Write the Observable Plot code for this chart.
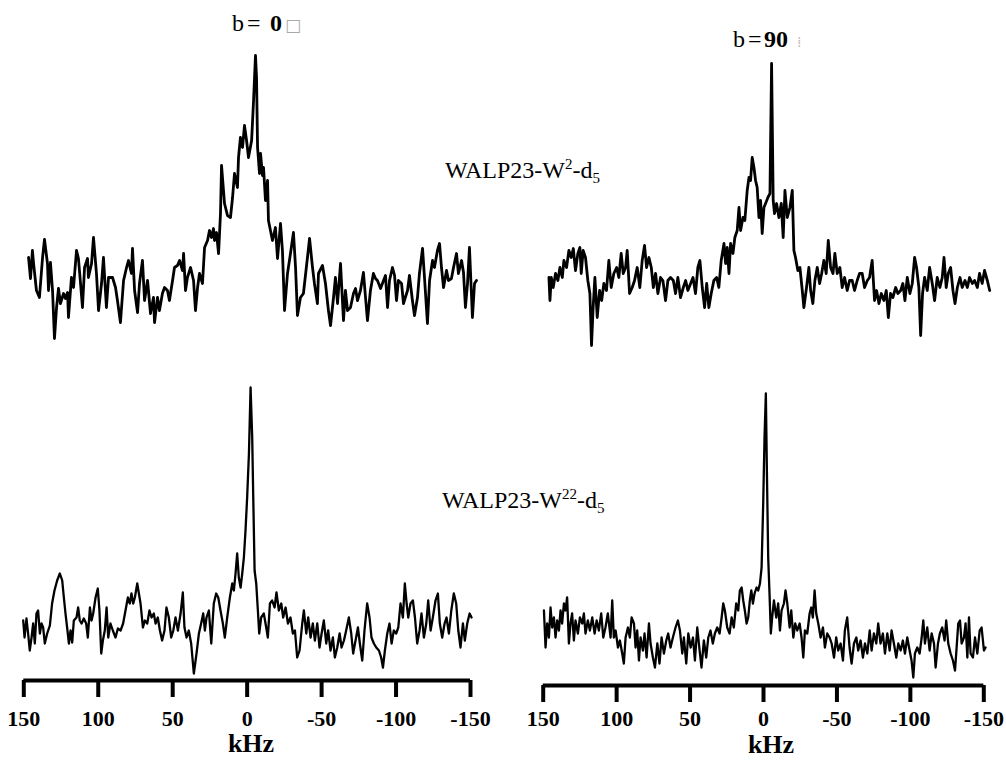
<!DOCTYPE html>
<html>
<head>
<meta charset="utf-8">
<script src="https://cdn.jsdelivr.net/npm/d3@7"></script>
<script src="https://cdn.jsdelivr.net/npm/@observablehq/plot@0.6"></script>
<style>
  html, body { margin: 0; padding: 0; background: #fff; }
  #fig { position: relative; width: 1006px; height: 761px; background: #fff; overflow: hidden; }
  .pane { position: absolute; }
</style>
</head>
<body>
<div id="fig"></div>
<script>
// ---- data (frequency in kHz, intensity in arbitrary units) ----
const xTicks = [150, 100, 50, 0, -50, -100, -150];

// WALP23-W2-d5, b = 0
const tlKHz = [146.8,145.5,144.2,143.5,141.5,139.5,137.4,136.1,134.1,133.4,
132.1,130.7,129.4,128.0,126.7,125.4,123.3,122.0,120.6,120.0,
118.0,116.6,114.6,113.3,111.9,110.6,109.2,107.2,106.6,104.5,
103.2,101.2,99.8,97.8,96.5,94.5,93.1,90.4,88.4,87.1,
85.1,83.0,81.0,79.7,77.7,77.0,75.6,73.6,72.3,70.3,
68.9,66.9,64.9,62.9,62.2,60.2,58.9,56.9,55.5,53.5,
52.2,50.1,48.8,46.8,45.4,43.4,42.7,41.4,40.1,38.0,
36.0,34.7,33.3,32.0,30.0,28.6,26.6,25.3,23.9,22.6,
21.9,20.6,19.2,17.9,17.2,15.2,13.2,11.2,9.8,8.5,
6.5,5.8,4.5,3.1,1.8,0.4,-0.9,-3.0,-4.3,-5.6,
-6.3,-7.0,-8.3,-9.0,-10.3,-11.0,-12.3,-13.7,-14.3,-17.0,
-19.0,-20.4,-22.4,-23.7,-25.1,-27.1,-29.1,-31.1,-32.5,-33.8,
-35.8,-37.8,-40.5,-41.9,-43.9,-45.2,-47.2,-47.9,-50.6,-52.6,
-54.6,-56.0,-58.0,-59.3,-60.7,-62.7,-64.7,-66.0,-67.4,-69.4,
-71.4,-72.8,-74.1,-76.1,-78.1,-79.5,-80.8,-82.8,-84.8,-86.2,
-87.5,-89.6,-91.6,-92.9,-94.3,-95.6,-97.6,-99.0,-100.3,-101.6,
-103.7,-105.0,-107.7,-109.0,-111.0,-112.4,-114.4,-115.7,-117.8,-119.1,
-121.1,-122.5,-124.5,-125.8,-127.8,-129.2,-130.5,-131.9,-133.9,-135.2,
-137.2,-138.6,-140.6,-141.9,-144.0,-145.3,-146.6,-148.0,-149.3,-151.3,
-152.7,-154.0];
const tlInt = [93,72,100,88,60,53,93,111,87,60,
88,60,12,43,62,47,57,52,58,33,
73,63,100,92,67,43,83,92,73,87,
113,77,40,67,93,43,73,73,63,50,
28,70,83,90,77,102,60,38,67,90,
50,70,37,53,28,53,40,57,63,60,
50,70,83,85,90,80,97,60,73,83,
70,40,63,77,67,103,110,120,113,122,
110,118,97,137,185,147,135,133,153,177,
163,193,213,203,225,210,193,210,250,295,
273,203,177,197,175,183,150,170,130,110,
123,92,127,100,40,77,97,118,83,35,
53,57,93,112,83,67,47,77,85,67,
40,25,53,73,47,87,30,60,40,43,
57,62,50,60,78,53,30,60,77,72,
70,62,70,75,43,70,83,75,50,70,
67,47,60,75,50,35,53,77,102,73,
27,70,90,83,100,107,83,63,80,70,
72,83,97,77,90,78,43,67,103,33,
67,70];

// WALP23-W2-d5, b = 90
const trKHz = [146.1,145.4,144.5,143.2,141.6,140.0,138.6,137.0,135.9,134.1,
132.5,130.9,129.5,128.0,126.4,125.0,124.1,122.8,121.2,119.6,
118.2,117.1,116.0,114.8,113.2,111.6,110.2,108.7,106.9,105.3,
103.7,101.9,100.0,98.5,96.9,95.5,93.9,92.8,91.2,89.4,
87.8,86.0,84.2,82.6,81.0,79.6,78.0,76.4,75.0,73.5,
71.9,70.1,68.5,66.7,65.1,63.3,61.4,59.9,58.3,56.5,
54.6,53.0,51.5,49.6,48.0,46.3,44.7,43.3,41.7,40.1,
38.7,37.2,35.6,33.8,31.9,30.4,28.8,26.9,25.8,24.7,
23.5,22.4,20.8,19.5,17.9,16.7,15.6,14.0,12.7,11.1,
9.9,8.8,7.7,6.5,5.4,4.3,3.1,2.0,0.9,-0.3,
-1.4,-3.0,-4.4,-5.5,-6.6,-7.5,-8.9,-10.5,-12.1,-13.4,
-14.6,-16.2,-18.0,-19.6,-20.7,-21.8,-23.4,-24.8,-26.4,-27.5,
-29.3,-30.9,-32.1,-33.6,-35.0,-36.6,-38.2,-39.6,-41.1,-42.7,
-44.1,-45.7,-47.3,-48.6,-50.2,-52.0,-53.6,-55.2,-57.0,-58.6,
-60.4,-62.0,-63.8,-65.4,-67.2,-68.8,-70.7,-72.2,-74.0,-75.6,
-77.0,-78.6,-80.2,-82.0,-83.6,-85.0,-86.5,-88.1,-90.0,-91.5,
-93.4,-94.9,-96.3,-97.9,-99.7,-101.3,-102.9,-104.2,-105.8,-107.0,
-108.3,-109.7,-111.5,-113.1,-114.9,-116.5,-118.3,-120.1,-121.7,-122.9,
-124.4,-125.8,-127.4,-129.0,-130.4,-132.0,-133.8,-135.3,-137.2,-138.8,
-140.3,-142.2,-143.7,-145.6,-147.1,-148.9,-150.5,-152.4,-154.0];
const trInt = [73,50,73,63,77,70,83,73,90,83,
100,93,102,80,97,103,77,100,93,70,
57,5,43,73,33,60,50,67,60,90,
63,77,83,73,97,77,83,100,57,63,
70,83,63,90,105,83,93,83,63,77,
57,73,70,50,70,73,70,57,73,53,
63,70,60,67,73,57,83,90,63,43,
67,43,57,70,73,63,90,107,87,103,
77,107,97,113,120,143,120,133,130,160,
173,170,193,183,170,163,133,150,117,143,
147,153,157,287,150,137,147,133,147,113,
160,133,143,160,100,93,80,83,60,43,
63,83,60,47,70,83,67,77,90,77,
110,83,77,97,77,83,63,73,60,70,
70,60,70,77,77,63,70,73,90,50,
60,47,57,50,60,33,57,53,63,57,
60,67,50,73,57,67,93,83,63,15,
57,73,60,83,67,50,73,63,73,93,
63,77,83,60,47,63,73,63,70,63,
73,67,70,63,77,67,80,70,60];

// WALP23-W22-d5, b = 0
const blKHz = [150.4,149.5,148.2,147.1,146.0,144.8,143.7,142.6,141.5,140.4,
139.2,138.1,137.0,135.9,134.3,132.5,131.0,129.4,127.6,125.8,
124.2,123.1,122.0,120.9,119.7,118.6,117.5,116.4,114.6,113.5,
112.4,111.2,109.7,108.1,107.0,105.6,104.5,103.4,101.8,100.3,
99.2,98.0,96.9,95.6,94.4,93.3,91.8,90.2,88.4,86.8,
85.0,83.3,81.7,80.1,78.8,77.7,76.5,75.4,73.8,72.7,
71.6,70.0,68.7,67.1,65.6,64.2,62.7,61.5,60.0,58.6,
57.1,55.5,54.2,52.6,51.0,49.6,48.1,46.5,44.7,43.2,
42.1,40.7,39.2,37.6,35.8,34.0,32.4,30.9,29.5,28.4,
27.3,25.7,24.1,22.4,20.8,19.4,17.9,16.3,15.0,13.4,
11.6,10.0,8.9,7.8,6.7,5.6,4.4,3.3,2.2,1.1,
0.0,-1.2,-2.3,-3.4,-4.1,-5.0,-6.1,-7.2,-8.1,-9.4,
-11.2,-12.8,-13.9,-15.3,-16.8,-18.4,-19.7,-21.3,-22.9,-24.2,
-25.8,-27.4,-29.1,-30.7,-32.1,-33.6,-35.2,-37.0,-38.1,-39.7,
-41.0,-42.6,-44.1,-45.5,-47.1,-48.6,-50.0,-51.5,-53.1,-54.4,
-56.0,-57.6,-58.9,-60.5,-62.1,-63.4,-65.0,-66.5,-68.3,-69.9,
-71.2,-72.8,-74.4,-75.7,-77.3,-78.8,-80.6,-82.2,-83.5,-85.1,
-86.7,-88.5,-90.0,-91.2,-92.5,-94.1,-95.6,-97.0,-98.5,-100.1,
-101.5,-103.0,-104.6,-105.9,-107.1,-108.2,-109.7,-111.3,-112.7,-114.2,
-115.8,-117.1,-118.7,-120.3,-121.6,-123.2,-124.7,-126.5,-128.1,-129.4,
-131.0,-132.6,-133.9,-135.5,-137.1,-138.8,-140.4,-141.8,-143.3,-144.9,
-146.2,-147.8,-149.4,-150.7];
const blInt = [80,63,82,67,50,63,77,57,87,90,
67,77,73,57,67,75,97,110,120,127,
120,103,87,73,57,70,58,80,83,93,
80,77,82,77,63,93,80,87,103,112,
90,47,60,70,93,63,77,70,63,72,
70,77,90,103,97,107,97,103,117,107,
97,73,80,77,90,83,87,77,83,70,
60,70,93,83,63,70,83,70,87,108,
73,63,70,57,27,47,67,77,87,70,
83,90,57,97,107,103,90,77,63,83,
103,117,110,127,147,123,113,127,143,170,
203,247,313,263,203,130,117,90,67,83,
87,73,63,97,100,93,108,90,97,83,
93,77,83,67,70,43,50,77,90,67,
83,63,77,60,77,53,67,80,57,70,
50,63,43,53,67,53,60,70,83,67,
47,60,73,57,40,70,97,83,63,57,
53,50,43,33,50,67,77,57,70,67,
73,97,83,117,97,83,97,100,83,57,
70,87,63,77,100,70,83,100,107,77,
63,77,83,67,90,107,97,70,53,77,
60,77,87,83];

// WALP23-W22-d5, b = 90
const brKHz = [149.5,148.4,147.3,146.1,145.0,143.9,142.7,141.6,140.5,139.3,
138.2,137.1,135.9,134.8,133.7,132.5,131.4,130.3,129.1,128.0,
126.4,125.0,123.4,122.3,121.2,119.6,118.2,116.6,115.0,113.6,
112.1,110.5,109.1,107.6,106.0,104.1,103.0,101.9,100.7,99.1,
97.8,96.2,95.1,93.9,92.3,91.0,89.8,88.2,87.1,86.0,
84.8,83.7,82.1,81.0,79.6,78.0,76.9,75.3,73.9,72.3,
70.8,69.4,67.8,66.2,64.9,63.3,61.7,59.9,58.3,56.9,
55.3,54.2,52.6,51.2,49.6,48.0,46.7,45.1,43.5,42.2,
40.6,39.0,37.6,36.1,34.5,33.1,31.5,29.9,28.5,27.4,
26.3,24.7,23.1,21.7,20.2,18.6,17.2,16.1,14.9,13.8,
12.7,11.5,10.4,9.3,8.3,7.2,6.1,4.7,3.6,2.4,
1.3,0.2,-0.7,-1.6,-2.3,-3.2,-4.1,-5.0,-5.9,-7.1,
-8.7,-10.0,-11.2,-12.3,-13.9,-15.0,-16.2,-17.8,-18.9,-20.3,
-21.6,-23.0,-24.6,-25.9,-27.1,-28.2,-29.8,-31.4,-32.5,-33.6,
-34.8,-35.9,-37.3,-38.9,-40.5,-41.8,-43.4,-45.0,-46.4,-48.0,
-49.5,-50.9,-52.5,-54.1,-55.4,-57.0,-58.6,-60.0,-61.6,-63.2,
-64.5,-66.1,-67.7,-69.1,-70.7,-72.3,-73.6,-75.2,-76.8,-78.1,
-79.7,-81.3,-82.7,-84.3,-85.9,-87.2,-88.8,-90.4,-91.8,-93.4,
-94.9,-96.3,-97.9,-99.5,-100.8,-102.0,-103.1,-104.7,-106.3,-107.7,
-108.8,-109.9,-111.5,-113.1,-114.5,-116.1,-117.2,-118.8,-120.1,-121.7,
-123.3,-124.4,-125.8,-127.4,-129.0,-130.4,-131.5,-132.6,-133.8,-134.9,
-136.5,-137.6,-138.8,-139.9,-141.0,-142.6,-144.0,-145.6,-147.2,-148.5,
-150.1,-151.2];
const brInt = [90,53,77,63,93,73,83,63,80,70,
90,77,97,90,103,57,77,87,60,80,
67,83,77,87,67,80,70,83,67,80,
70,87,63,73,87,63,100,63,70,53,
60,47,37,63,73,63,83,77,53,70,
40,63,50,67,43,77,57,43,33,57,
37,63,47,60,67,53,63,73,80,70,
47,63,37,67,53,63,40,73,50,33,
60,43,63,70,57,67,73,67,83,97,
90,73,67,83,73,97,90,110,113,100,
90,77,83,100,110,97,107,113,110,117,
133,197,263,307,230,143,107,67,83,100,
83,97,70,90,97,110,97,73,90,63,
77,70,77,63,43,70,67,87,93,83,
110,87,77,63,73,53,67,63,57,43,
63,50,57,40,70,83,53,37,57,63,
50,60,43,57,47,70,50,67,57,77,
57,67,47,67,50,70,57,43,57,50,
60,47,63,50,40,23,47,53,47,63,
80,57,73,50,67,57,33,57,67,73,
60,80,57,47,40,30,53,77,80,57,
63,77,43,83,47,43,63,47,70,73,
50,53];

const sampleLabels = ["WALP23-W", "2", "22", "-d", "5"];
const axisLabel = "kHz";

// ---- layout ----
const fig = document.getElementById("fig");
const panels = [
  {k: tlKHz, v: tlInt, left: 0,   top: 0,   width: 500, height: 360, mL: 23.3, mR: 30,   mB: 10, yDomain: [0, 350], sw: 2.8, axis: false},
  {k: trKHz, v: trInt, left: 500, top: 0,   width: 506, height: 360, mL: 42.7, mR: 22.7, mB: 10, yDomain: [0, 350], sw: 2.8, axis: false},
  {k: blKHz, v: blInt, left: 0,   top: 350, width: 500, height: 411, mL: 23.3, mR: 30,   mB: 81, yDomain: [20, 350], sw: 2.3, axis: true, tickPad: 13},
  {k: brKHz, v: brInt, left: 500, top: 350, width: 506, height: 411, mL: 42.7, mR: 22.7, mB: 76, yDomain: [15, 350], sw: 2.3, axis: true, tickPad: 8}
];

for (const p of panels) {
  const data = p.k.map((x, i) => ({k: x, v: p.v[i]}));
  const marks = [
    Plot.line(data, {x: "k", y: "v", stroke: "black", strokeWidth: p.sw, strokeLinejoin: "round"})
  ];
  if (p.axis) {
    marks.push(Plot.ruleY([p.yDomain[0]], {stroke: "black", strokeWidth: 4}));
    marks.push(Plot.axisX({ticks: xTicks, anchor: "bottom", tickSize: 17, tickPadding: p.tickPad,
      strokeWidth: 4, stroke: "black", fill: "black", label: null, tickFormat: d => String(d)}));
  }
  const svg = Plot.plot({
    width: p.width, height: p.height,
    marginLeft: p.mL, marginRight: p.mR, marginTop: 0, marginBottom: p.mB,
    x: {domain: [150, -150], label: null, axis: p.axis ? undefined : null},
    y: {domain: p.yDomain, label: null, axis: null},
    style: {fontFamily: "'Liberation Serif', 'Times New Roman', serif", fontSize: "22px",
            fontWeight: "bold", background: "transparent", overflow: "visible", color: "black"},
    marks
  });
  const wrap = document.createElement("div");
  wrap.className = "pane";
  wrap.style.left = p.left + "px";
  wrap.style.top = p.top + "px";
  wrap.appendChild(svg);
  fig.appendChild(wrap);
}

// ---- text overlay ----
const ns = "http://www.w3.org/2000/svg";
const ov = document.createElementNS(ns, "svg");
ov.setAttribute("width", 1006);
ov.setAttribute("height", 761);
ov.setAttribute("class", "pane");
ov.style.left = "0px"; ov.style.top = "0px";
ov.setAttribute("font-family", "'Liberation Serif', 'Times New Roman', serif");
ov.innerHTML = `
  <text x="232" y="31" font-size="24" fill="black"><tspan>b</tspan><tspan x="247">=</tspan><tspan x="270" font-weight="bold">0</tspan><tspan x="285" font-family="DejaVu Sans" font-size="17" fill="#aaa">□</tspan></text>
  <text x="733" y="47" font-size="24" fill="black"><tspan>b</tspan><tspan x="748">=</tspan><tspan x="764" font-weight="bold">90</tspan><tspan x="797" font-family="DejaVu Sans" font-size="14" fill="#bbb">⁞</tspan></text>
  <text x="445" y="178" font-size="24" fill="black">${sampleLabels[0]}<tspan dy="-9" font-size="15">${sampleLabels[1]}</tspan><tspan dy="9">${sampleLabels[3]}</tspan><tspan dy="5" font-size="15">${sampleLabels[4]}</tspan></text>
  <text x="442" y="508" font-size="24" fill="black">${sampleLabels[0]}<tspan dy="-9" font-size="15">${sampleLabels[2]}</tspan><tspan dy="9">${sampleLabels[3]}</tspan><tspan dy="5" font-size="15">${sampleLabels[4]}</tspan></text>
  <text x="251" y="752" font-size="26" font-weight="bold" text-anchor="middle" fill="black">${axisLabel}</text>
  <text x="771" y="753" font-size="26" font-weight="bold" text-anchor="middle" fill="black">${axisLabel}</text>
`;
fig.appendChild(ov);
</script>
</body>
</html>
